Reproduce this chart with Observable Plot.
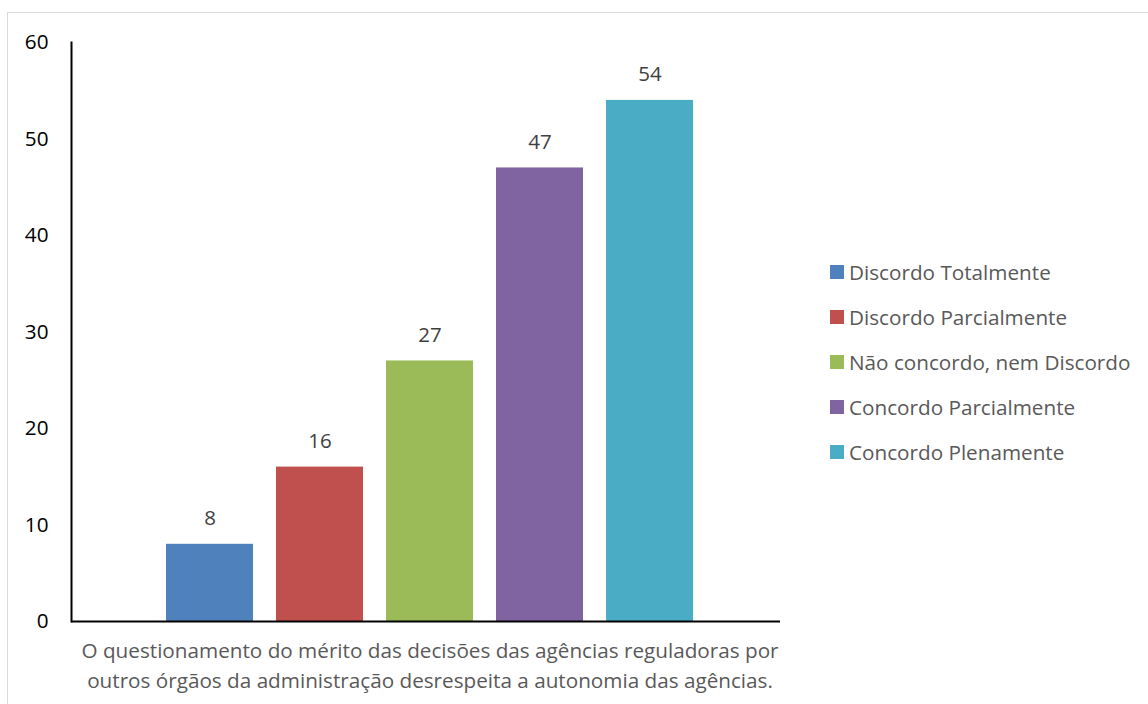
<!DOCTYPE html>
<html>
<head>
<meta charset="utf-8">
<script src="https://cdn.jsdelivr.net/npm/d3@7"></script>
<script src="https://cdn.jsdelivr.net/npm/@observablehq/plot@0.6"></script>
<style>
  html, body { margin: 0; padding: 0; background: #fff; }
  #wrap { position: relative; width: 1148px; height: 704px; overflow: hidden; font-family: "Open Sans", sans-serif; }
  #border { position: absolute; left: 7px; top: 12px; width: 1160px; height: 720px; border: 1px solid #d9d9d9; box-sizing: border-box; }
  #chart { position: absolute; left: 0; top: 0; }
  #legend { position: absolute; left: 830px; top: 0; }
  .item { position: absolute; left: 0; display: flex; align-items: center; white-space: nowrap; color: #595959; font-size: 20.7px; transform: translateY(-50%); }
  .sw { width: 14px; height: 14px; margin-right: 5px; flex: none; }
</style>
</head>
<body>
<div id="wrap">
  <div id="border"></div>
  <div id="chart"></div>
  <div id="legend"></div>
</div>
<script>
const categories = ["Discordo Totalmente", "Discordo Parcialmente", "Não concordo, nem Discordo", "Concordo Parcialmente", "Concordo Plenamente"];
const values = [8, 16, 27, 47, 54];
const colors = ["#4F81BD", "#C0504D", "#9BBB59", "#8064A2", "#4BACC6"];
const yTicks = [0, 10, 20, 30, 40, 50, 60];
const captionLines = [
  "O questionamento do mérito das decisões das agências reguladoras por",
  "outros órgãos da administração desrespeita a autonomia das agências."
];

const data = categories.map((c, i) => ({category: c, value: values[i]}));

const chart = Plot.plot({
  width: 1148,
  height: 704,
  marginLeft: 71,
  marginRight: 368,
  marginTop: 42,
  marginBottom: 83,
  style: {fontFamily: "'Open Sans', sans-serif", background: "transparent", overflow: "visible"},
  x: {domain: categories, range: [166, 693], paddingInner: 23 / 110, paddingOuter: 0, axis: null},
  y: {domain: [0, 60], ticks: yTicks},
  color: {domain: categories, range: colors},
  marks: [
    Plot.barY(data, {x: "category", y: "value", fill: "category"}),
    Plot.text(data, {x: "category", y: "value", text: d => String(d.value), dy: -26, fill: "#404040", fontSize: 20.5}),
    Plot.axisY({ticks: yTicks, tickSize: 0, tickPadding: 23, fontSize: 20.7, fill: "#000", label: null}),
    Plot.ruleY([0], {stroke: "#000", strokeWidth: 2}),
    Plot.frame({anchor: "left", stroke: "#000", strokeWidth: 2}),
    Plot.text([captionLines.join("\n")], {text: d => d, dx: 4, frameAnchor: "bottom", dy: 42, lineAnchor: "middle", lineHeight: 1.45, fill: "#595959", fontSize: 20.7})
  ]
});
document.getElementById("chart").appendChild(chart);

const legend = document.getElementById("legend");
categories.forEach((c, i) => {
  const item = document.createElement("div");
  item.className = "item";
  item.style.top = (272 + i * 45) + "px";
  const sw = document.createElement("span");
  sw.className = "sw";
  sw.style.background = colors[i];
  const label = document.createElement("span");
  label.textContent = c;
  item.appendChild(sw);
  item.appendChild(label);
  legend.appendChild(item);
});
</script>
</body>
</html>
